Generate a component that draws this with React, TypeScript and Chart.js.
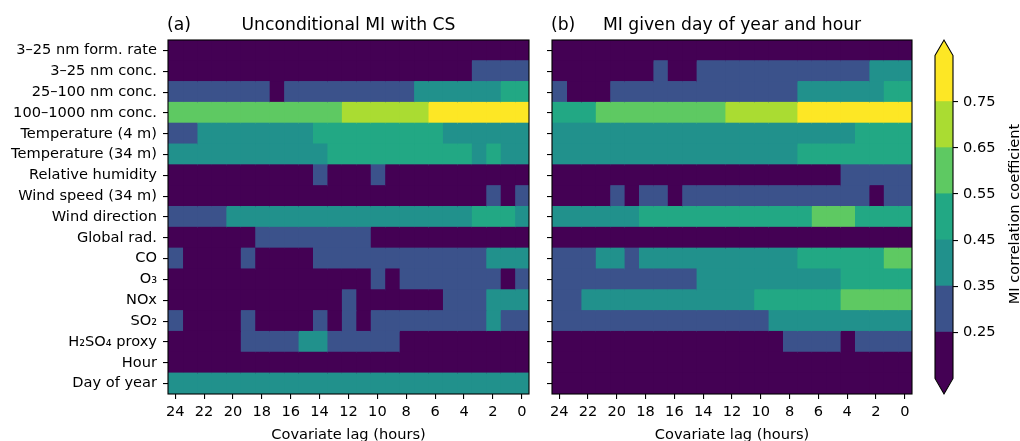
import { useEffect, useRef } from "react";
import { Chart, registerables } from "chart.js";

Chart.register(...registerables);

const FONT = "'DejaVu Sans', sans-serif";

// Covariates, top to bottom
const rowLabels = [
  "3–25 nm form. rate",
  "3–25 nm conc.",
  "25–100 nm conc.",
  "100–1000 nm conc.",
  "Temperature (4 m)",
  "Temperature (34 m)",
  "Relative humidity",
  "Wind speed (34 m)",
  "Wind direction",
  "Global rad.",
  "CO",
  "O₃",
  "NOx",
  "SO₂",
  "H₂SO₄ proxy",
  "Hour",
  "Day of year",
];

// Lag of each column, left to right (hours)
const lags = [24, 23, 22, 21, 20, 19, 18, 17, 16, 15, 14, 13, 12, 11, 10, 9, 8, 7, 6, 5, 4, 3, 2, 1, 0];
const lagTicks = [24, 22, 20, 18, 16, 14, 12, 10, 8, 6, 4, 2, 0];

// Discrete colour levels of the MI correlation coefficient
const levelBounds = [0.15, 0.25, 0.35, 0.45, 0.55, 0.65, 0.75, 0.85];
const colorbarTicks = [0.25, 0.35, 0.45, 0.55, 0.65, 0.75];
const levelColors = ["#440154", "#3b528b", "#21918c", "#22a884", "#5ec962", "#aadc32", "#fde725"];

// (a) unconditional MI with CS, one row per covariate, one value per lag
const unconditionalMI: number[][] = [
  [0.2, 0.2, 0.2, 0.2, 0.2, 0.2, 0.2, 0.2, 0.2, 0.2, 0.2, 0.2, 0.2, 0.2, 0.2, 0.2, 0.2, 0.2, 0.2, 0.2, 0.2, 0.2, 0.2, 0.2, 0.2],
  [0.2, 0.2, 0.2, 0.2, 0.2, 0.2, 0.2, 0.2, 0.2, 0.2, 0.2, 0.2, 0.2, 0.2, 0.2, 0.2, 0.2, 0.2, 0.2, 0.2, 0.2, 0.3, 0.3, 0.3, 0.3],
  [0.3, 0.3, 0.3, 0.3, 0.3, 0.3, 0.3, 0.2, 0.3, 0.3, 0.3, 0.3, 0.3, 0.3, 0.3, 0.3, 0.3, 0.4, 0.4, 0.4, 0.4, 0.4, 0.4, 0.5, 0.5],
  [0.6, 0.6, 0.6, 0.6, 0.6, 0.6, 0.6, 0.6, 0.6, 0.6, 0.6, 0.6, 0.7, 0.7, 0.7, 0.7, 0.7, 0.7, 0.8, 0.8, 0.8, 0.8, 0.8, 0.8, 0.8],
  [0.3, 0.3, 0.4, 0.4, 0.4, 0.4, 0.4, 0.4, 0.4, 0.4, 0.5, 0.5, 0.5, 0.5, 0.5, 0.5, 0.5, 0.5, 0.5, 0.4, 0.4, 0.4, 0.4, 0.4, 0.4],
  [0.4, 0.4, 0.4, 0.4, 0.4, 0.4, 0.4, 0.4, 0.4, 0.4, 0.4, 0.5, 0.5, 0.5, 0.5, 0.5, 0.5, 0.5, 0.5, 0.5, 0.5, 0.4, 0.5, 0.4, 0.4],
  [0.2, 0.2, 0.2, 0.2, 0.2, 0.2, 0.2, 0.2, 0.2, 0.2, 0.3, 0.2, 0.2, 0.2, 0.3, 0.2, 0.2, 0.2, 0.2, 0.2, 0.2, 0.2, 0.2, 0.2, 0.2],
  [0.2, 0.2, 0.2, 0.2, 0.2, 0.2, 0.2, 0.2, 0.2, 0.2, 0.2, 0.2, 0.2, 0.2, 0.2, 0.2, 0.2, 0.2, 0.2, 0.2, 0.2, 0.2, 0.3, 0.2, 0.3],
  [0.3, 0.3, 0.3, 0.3, 0.4, 0.4, 0.4, 0.4, 0.4, 0.4, 0.4, 0.4, 0.4, 0.4, 0.4, 0.4, 0.4, 0.4, 0.4, 0.4, 0.4, 0.5, 0.5, 0.5, 0.4],
  [0.2, 0.2, 0.2, 0.2, 0.2, 0.2, 0.3, 0.3, 0.3, 0.3, 0.3, 0.3, 0.3, 0.3, 0.2, 0.2, 0.2, 0.2, 0.2, 0.2, 0.2, 0.2, 0.2, 0.2, 0.2],
  [0.3, 0.2, 0.2, 0.2, 0.2, 0.3, 0.2, 0.2, 0.2, 0.2, 0.3, 0.3, 0.3, 0.3, 0.3, 0.3, 0.3, 0.3, 0.3, 0.3, 0.3, 0.3, 0.4, 0.4, 0.4],
  [0.2, 0.2, 0.2, 0.2, 0.2, 0.2, 0.2, 0.2, 0.2, 0.2, 0.2, 0.2, 0.2, 0.2, 0.3, 0.2, 0.3, 0.3, 0.3, 0.3, 0.3, 0.3, 0.3, 0.2, 0.3],
  [0.2, 0.2, 0.2, 0.2, 0.2, 0.2, 0.2, 0.2, 0.2, 0.2, 0.2, 0.2, 0.3, 0.2, 0.2, 0.2, 0.2, 0.2, 0.2, 0.3, 0.3, 0.3, 0.4, 0.4, 0.4],
  [0.3, 0.2, 0.2, 0.2, 0.2, 0.3, 0.2, 0.2, 0.2, 0.2, 0.3, 0.2, 0.3, 0.2, 0.3, 0.3, 0.3, 0.3, 0.3, 0.3, 0.3, 0.3, 0.4, 0.3, 0.3],
  [0.2, 0.2, 0.2, 0.2, 0.2, 0.3, 0.3, 0.3, 0.3, 0.4, 0.4, 0.3, 0.3, 0.3, 0.3, 0.3, 0.2, 0.2, 0.2, 0.2, 0.2, 0.2, 0.2, 0.2, 0.2],
  [0.2, 0.2, 0.2, 0.2, 0.2, 0.2, 0.2, 0.2, 0.2, 0.2, 0.2, 0.2, 0.2, 0.2, 0.2, 0.2, 0.2, 0.2, 0.2, 0.2, 0.2, 0.2, 0.2, 0.2, 0.2],
  [0.4, 0.4, 0.4, 0.4, 0.4, 0.4, 0.4, 0.4, 0.4, 0.4, 0.4, 0.4, 0.4, 0.4, 0.4, 0.4, 0.4, 0.4, 0.4, 0.4, 0.4, 0.4, 0.4, 0.4, 0.4],
];

// (b) MI given day of year and hour
const conditionalMI: number[][] = [
  [0.2, 0.2, 0.2, 0.2, 0.2, 0.2, 0.2, 0.2, 0.2, 0.2, 0.2, 0.2, 0.2, 0.2, 0.2, 0.2, 0.2, 0.2, 0.2, 0.2, 0.2, 0.2, 0.2, 0.2, 0.2],
  [0.2, 0.2, 0.2, 0.2, 0.2, 0.2, 0.2, 0.3, 0.2, 0.2, 0.3, 0.3, 0.3, 0.3, 0.3, 0.3, 0.3, 0.3, 0.3, 0.3, 0.3, 0.3, 0.4, 0.4, 0.4],
  [0.3, 0.2, 0.2, 0.2, 0.3, 0.3, 0.3, 0.3, 0.3, 0.3, 0.3, 0.3, 0.3, 0.3, 0.3, 0.3, 0.3, 0.4, 0.4, 0.4, 0.4, 0.4, 0.4, 0.5, 0.5],
  [0.5, 0.5, 0.5, 0.6, 0.6, 0.6, 0.6, 0.6, 0.6, 0.6, 0.6, 0.6, 0.7, 0.7, 0.7, 0.7, 0.7, 0.8, 0.8, 0.8, 0.8, 0.8, 0.8, 0.8, 0.8],
  [0.4, 0.4, 0.4, 0.4, 0.4, 0.4, 0.4, 0.4, 0.4, 0.4, 0.4, 0.4, 0.4, 0.4, 0.4, 0.4, 0.4, 0.4, 0.4, 0.4, 0.4, 0.5, 0.5, 0.5, 0.5],
  [0.4, 0.4, 0.4, 0.4, 0.4, 0.4, 0.4, 0.4, 0.4, 0.4, 0.4, 0.4, 0.4, 0.4, 0.4, 0.4, 0.4, 0.5, 0.5, 0.5, 0.5, 0.5, 0.5, 0.5, 0.5],
  [0.2, 0.2, 0.2, 0.2, 0.2, 0.2, 0.2, 0.2, 0.2, 0.2, 0.2, 0.2, 0.2, 0.2, 0.2, 0.2, 0.2, 0.2, 0.2, 0.2, 0.3, 0.3, 0.3, 0.3, 0.3],
  [0.2, 0.2, 0.2, 0.2, 0.3, 0.2, 0.3, 0.3, 0.2, 0.3, 0.3, 0.3, 0.3, 0.3, 0.3, 0.3, 0.3, 0.3, 0.3, 0.3, 0.3, 0.3, 0.2, 0.3, 0.3],
  [0.4, 0.4, 0.4, 0.4, 0.4, 0.4, 0.5, 0.5, 0.5, 0.5, 0.5, 0.5, 0.5, 0.5, 0.5, 0.5, 0.5, 0.5, 0.6, 0.6, 0.6, 0.5, 0.5, 0.5, 0.5],
  [0.2, 0.2, 0.2, 0.2, 0.2, 0.2, 0.2, 0.2, 0.2, 0.2, 0.2, 0.2, 0.2, 0.2, 0.2, 0.2, 0.2, 0.2, 0.2, 0.2, 0.2, 0.2, 0.2, 0.2, 0.2],
  [0.3, 0.3, 0.3, 0.4, 0.4, 0.3, 0.4, 0.4, 0.4, 0.4, 0.4, 0.4, 0.4, 0.4, 0.4, 0.4, 0.4, 0.5, 0.5, 0.5, 0.5, 0.5, 0.5, 0.6, 0.6],
  [0.3, 0.3, 0.3, 0.3, 0.3, 0.3, 0.3, 0.3, 0.3, 0.3, 0.4, 0.4, 0.4, 0.4, 0.4, 0.4, 0.4, 0.4, 0.4, 0.4, 0.5, 0.5, 0.5, 0.5, 0.5],
  [0.3, 0.3, 0.4, 0.4, 0.4, 0.4, 0.4, 0.4, 0.4, 0.4, 0.4, 0.4, 0.4, 0.4, 0.5, 0.5, 0.5, 0.5, 0.5, 0.5, 0.6, 0.6, 0.6, 0.6, 0.6],
  [0.3, 0.3, 0.3, 0.3, 0.3, 0.3, 0.3, 0.3, 0.3, 0.3, 0.3, 0.3, 0.3, 0.3, 0.3, 0.4, 0.4, 0.4, 0.4, 0.4, 0.4, 0.4, 0.4, 0.4, 0.4],
  [0.2, 0.2, 0.2, 0.2, 0.2, 0.2, 0.2, 0.2, 0.2, 0.2, 0.2, 0.2, 0.2, 0.2, 0.2, 0.2, 0.3, 0.3, 0.3, 0.3, 0.2, 0.3, 0.3, 0.3, 0.3],
  [0.2, 0.2, 0.2, 0.2, 0.2, 0.2, 0.2, 0.2, 0.2, 0.2, 0.2, 0.2, 0.2, 0.2, 0.2, 0.2, 0.2, 0.2, 0.2, 0.2, 0.2, 0.2, 0.2, 0.2, 0.2],
  [0.2, 0.2, 0.2, 0.2, 0.2, 0.2, 0.2, 0.2, 0.2, 0.2, 0.2, 0.2, 0.2, 0.2, 0.2, 0.2, 0.2, 0.2, 0.2, 0.2, 0.2, 0.2, 0.2, 0.2, 0.2],
];

const tickFont = { family: FONT, size: 14.6 };

function colorFor(v: number): string {
  let level = 0;
  for (const t of colorbarTicks) if (v >= t) level++;
  return levelColors[level];
}

// Frame, panel tag, title and x-axis label for a heatmap panel
function panelDecor(tag: string, title: string) {
  return {
    id: "panelDecor",
    afterDraw(chart: any) {
      const { ctx, chartArea: a } = chart;
      ctx.save();
      ctx.strokeStyle = "#000";
      ctx.lineWidth = 1.1;
      ctx.strokeRect(a.left, a.top, a.right - a.left, a.bottom - a.top);
      ctx.fillStyle = "#000";
      ctx.textBaseline = "alphabetic";
      ctx.font = `17.2px ${FONT}`;
      ctx.textAlign = "left";
      ctx.fillText(tag, a.left - 1, 29.5);
      ctx.textAlign = "center";
      ctx.fillText(title, (a.left + a.right) / 2, 29.5);
      ctx.font = `14.6px ${FONT}`;
      ctx.fillText("Covariate lag (hours)", (a.left + a.right) / 2, 438.5);
      ctx.restore();
    },
  };
}

function heatmapConfig(
  values: number[][],
  tag: string,
  title: string,
  showLabels: boolean,
  yWidth: number,
  padRight: number
): any {
  return {
    type: "bar",
    data: {
      labels: rowLabels,
      datasets: lags.map((lag, c) => ({
        label: String(lag),
        data: rowLabels.map(() => [lag - 0.5, lag + 0.5]),
        backgroundColor: values.map((row) => colorFor(row[c])),
        borderWidth: 0,
        barPercentage: 1,
        categoryPercentage: 1,
        grouped: false,
        inflateAmount: 0.6,
      })),
    },
    options: {
      indexAxis: "y",
      animation: false,
      responsive: false,
      events: [],
      layout: { padding: { left: 0, right: padRight, top: 40, bottom: 0 } },
      plugins: { legend: { display: false }, tooltip: { enabled: false } },
      scales: {
        x: {
          type: "linear",
          position: "bottom",
          reverse: true,
          min: -0.5,
          max: 24.5,
          afterBuildTicks: (s: any) => {
            s.ticks = lagTicks.map((v) => ({ value: v }));
          },
          afterFit: (s: any) => {
            s.height = 47;
          },
          border: { display: false },
          grid: { drawOnChartArea: false, drawTicks: true, tickLength: 5, color: "#000", lineWidth: 1.1 },
          ticks: { autoSkip: false, maxRotation: 0, padding: 4, color: "#000", font: tickFont },
        },
        y: {
          type: "category",
          position: "left",
          afterFit: (s: any) => {
            s.width = yWidth;
          },
          border: { display: false },
          grid: { offset: false, drawOnChartArea: false, drawTicks: true, tickLength: 5, color: "#000", lineWidth: 1.1 },
          ticks: { display: showLabels, autoSkip: false, padding: 6, color: "#000", font: tickFont },
        },
      },
    },
    plugins: [panelDecor(tag, title)],
  };
}

// Extension triangles, outline and rotated label of the colour bar
const colorbarDecor = {
  id: "colorbarDecor",
  afterDatasetsDraw(chart: any) {
    const { ctx, chartArea: a } = chart;
    const y = chart.scales.y;
    const yHi = y.getPixelForValue(levelBounds[levelBounds.length - 1]);
    const yLo = y.getPixelForValue(levelBounds[0]);
    const cx = (a.left + a.right) / 2;
    ctx.save();
    ctx.fillStyle = levelColors[levelColors.length - 1];
    ctx.beginPath();
    ctx.moveTo(a.left, yHi + 0.5);
    ctx.lineTo(cx, a.top);
    ctx.lineTo(a.right, yHi + 0.5);
    ctx.closePath();
    ctx.fill();
    ctx.fillStyle = levelColors[0];
    ctx.beginPath();
    ctx.moveTo(a.left, yLo - 0.5);
    ctx.lineTo(cx, a.bottom);
    ctx.lineTo(a.right, yLo - 0.5);
    ctx.closePath();
    ctx.fill();
    ctx.strokeStyle = "#000";
    ctx.lineWidth = 1.1;
    ctx.lineJoin = "miter";
    ctx.beginPath();
    ctx.moveTo(a.left, yHi);
    ctx.lineTo(cx, a.top);
    ctx.lineTo(a.right, yHi);
    ctx.lineTo(a.right, yLo);
    ctx.lineTo(cx, a.bottom);
    ctx.lineTo(a.left, yLo);
    ctx.closePath();
    ctx.stroke();
    ctx.translate(98.5, (yHi + yLo) / 2 - 3);
    ctx.rotate(-Math.PI / 2);
    ctx.fillStyle = "#000";
    ctx.font = `14.6px ${FONT}`;
    ctx.textAlign = "center";
    ctx.textBaseline = "alphabetic";
    ctx.fillText("MI correlation coefficient", 0, 0);
    ctx.restore();
  },
};

function colorbarConfig(): any {
  return {
    type: "bar",
    data: {
      labels: [""],
      datasets: levelColors.map((color, i) => ({
        data: [[levelBounds[i], levelBounds[i + 1]]],
        backgroundColor: color,
        borderWidth: 0,
        barPercentage: 1,
        categoryPercentage: 1,
        grouped: false,
        inflateAmount: 0.5,
      })),
    },
    options: {
      animation: false,
      responsive: false,
      events: [],
      layout: { padding: { left: 15, right: 0, top: 40, bottom: 47 } },
      plugins: { legend: { display: false }, tooltip: { enabled: false } },
      scales: {
        x: { display: false },
        y: {
          type: "linear",
          position: "right",
          min: 0.1162,
          max: 0.8838,
          afterBuildTicks: (s: any) => {
            s.ticks = colorbarTicks.map((v) => ({ value: v }));
          },
          afterFit: (s: any) => {
            s.width = 67;
          },
          border: { display: false },
          grid: { drawOnChartArea: false, drawTicks: true, tickLength: 5, color: "#000", lineWidth: 1.1 },
          ticks: {
            autoSkip: false,
            padding: 5,
            color: "#000",
            font: tickFont,
            callback: (v: any) => Number(v).toFixed(2),
          },
        },
      },
    },
    plugins: [colorbarDecor],
  };
}

export default function App() {
  const aRef = useRef<HTMLCanvasElement>(null);
  const bRef = useRef<HTMLCanvasElement>(null);
  const cRef = useRef<HTMLCanvasElement>(null);

  useEffect(() => {
    const charts = [
      new Chart(aRef.current!, heatmapConfig(unconditionalMI, "(a)", "Unconditional MI with CS", true, 168, 11)),
      new Chart(bRef.current!, heatmapConfig(conditionalMI, "(b)", "MI given day of year and hour", false, 12, 8)),
      new Chart(cRef.current!, colorbarConfig()),
    ];
    return () => charts.forEach((c) => c.destroy());
  }, []);

  return (
    <div style={{ position: "fixed", left: 0, top: 0, width: 1020, height: 441, background: "#fff" }}>
      <canvas ref={aRef} width={540} height={441} style={{ position: "absolute", left: 0, top: 0 }} />
      <canvas ref={bRef} width={380} height={441} style={{ position: "absolute", left: 540, top: 0 }} />
      <canvas ref={cRef} width={100} height={441} style={{ position: "absolute", left: 920, top: 0 }} />
    </div>
  );
}
